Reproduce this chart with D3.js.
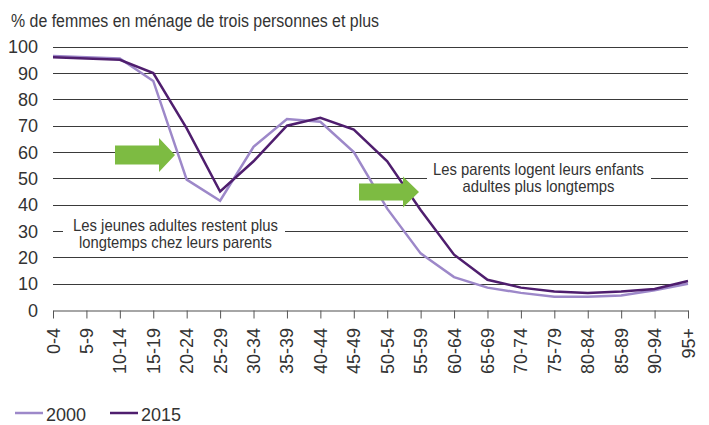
<!DOCTYPE html>
<html>
<head>
<meta charset="utf-8">
<script src="https://cdn.jsdelivr.net/npm/d3@7"></script>
<style>
  body { margin: 0; background: #fff; }
  text { font-family: "Liberation Sans", Arial, sans-serif; fill: #333; }
</style>
</head>
<body>
<div id="chart"></div>
<script>
// age groups
var ages = ["0-4", "5-9", "10-14", "15-19", "20-24", "25-29", "30-34", "35-39", "40-44", "45-49",
	"50-54", "55-59", "60-64", "65-69", "70-74", "75-79", "80-84", "85-89", "90-94", "95+"];

// share of women in households of 3+ persons (%)
var v2000 = [96.5, 96, 95.5, 87, 49.5, 41.5, 62, 72.5, 71.5, 60,
	38.5, 21.5, 12.5, 8.5, 6.5, 5, 5, 5.5, 7.5, 10];
var v2015 = [96, 95.5, 95, 90, 69, 45, 56.5, 70, 73, 68.5,
	56.5, 38, 21, 11.5, 8.5, 7, 6.5, 7, 8, 11];

var yTicks = [0, 10, 20, 30, 40, 50, 60, 70, 80, 90, 100];
var seriesNames = ["2000", "2015"];

var colors = { "2000": "#9d88c9", "2015": "#4f1e6e" };
var green = "#7dbb42";

var svg = d3.select("#chart").append("svg")
	.attr("width", 709)
	.attr("height", 425);

var x = d3.scalePoint()
	.domain(ages)
	.range([53, 688]);

var y = d3.scaleLinear()
	.domain([0, 100])
	.range([310, 46.7]);

// title
svg.append("text")
	.attr("x", 11)
	.attr("y", 26.5)
	.attr("font-size", 18)
	.attr("textLength", 368)
	.attr("lengthAdjust", "spacingAndGlyphs")
	.text("% de femmes en ménage de trois personnes et plus");

// gridlines
svg.selectAll("line.grid")
	.data(yTicks.filter(function(d) { return d > 0; }))
	.enter()
	.append("line")
	.attr("class", "grid")
	.attr("x1", 53)
	.attr("x2", 688)
	.attr("y1", function(d) { return Math.round(y(d)) + 0.5; })
	.attr("y2", function(d) { return Math.round(y(d)) + 0.5; })
	.attr("stroke", "#3a3a3a")
	.attr("stroke-width", 1);

// y labels
svg.selectAll("text.ylab")
	.data(yTicks)
	.enter()
	.append("text")
	.attr("class", "ylab")
	.attr("x", 38)
	.attr("y", function(d) { return y(d) + 6.5; })
	.attr("text-anchor", "end")
	.attr("font-size", 18)
	.text(function(d) { return d; });

// x axis
var xAxis = d3.axisBottom(x).tickSize(8).tickSizeOuter(0).tickFormat("");
var gx = svg.append("g")
	.attr("transform", "translate(0,310.5)")
	.call(xAxis);
gx.select(".domain").attr("stroke", "#888").attr("stroke-width", 1.5);
gx.selectAll(".tick line").attr("stroke", "#555");

svg.selectAll("text.xlab")
	.data(ages)
	.enter()
	.append("text")
	.attr("class", "xlab")
	.attr("transform", function(d) { return "translate(" + (x(d) + 6.5) + ",328) rotate(-90)"; })
	.attr("text-anchor", "end")
	.attr("font-size", 18)
	.text(function(d) { return d; });

// annotation masks (white boxes interrupting the gridlines)
svg.append("rect")
	.attr("x", 63).attr("y", 213).attr("width", 222).attr("height", 38)
	.attr("fill", "#fff");
svg.append("rect")
	.attr("x", 427).attr("y", 158).attr("width", 224).attr("height", 40)
	.attr("fill", "#fff");

// lines
var line = d3.line()
	.x(function(d, i) { return x(ages[i]); })
	.y(function(d) { return y(d); });

svg.append("path")
	.datum(v2000)
	.attr("d", line)
	.attr("fill", "none")
	.attr("stroke", colors["2000"])
	.attr("stroke-width", 2.5);

svg.append("path")
	.datum(v2015)
	.attr("d", line)
	.attr("fill", "none")
	.attr("stroke", colors["2015"])
	.attr("stroke-width", 2.5);

// arrows
function arrow(x0, yc, bodyLen, headLen, bodyH, headH) {
	var pts = [
		[x0, yc - bodyH / 2], [x0 + bodyLen, yc - bodyH / 2], [x0 + bodyLen, yc - headH / 2],
		[x0 + bodyLen + headLen, yc], [x0 + bodyLen, yc + headH / 2], [x0 + bodyLen, yc + bodyH / 2],
		[x0, yc + bodyH / 2]
	];
	svg.append("polygon")
		.attr("points", pts.map(function(p) { return p.join(","); }).join(" "))
		.attr("fill", green);
}
arrow(115, 155, 44, 16, 19, 34);
arrow(359, 192, 44, 16, 17, 31);

// annotation texts
var ann1 = svg.append("text").attr("font-size", 16.5).attr("text-anchor", "middle");
ann1.append("tspan").attr("x", 175.5).attr("y", 231)
	.attr("textLength", 205).attr("lengthAdjust", "spacingAndGlyphs")
	.text("Les jeunes adultes restent plus");
ann1.append("tspan").attr("x", 175.5).attr("y", 248)
	.attr("textLength", 193).attr("lengthAdjust", "spacingAndGlyphs")
	.text("longtemps chez leurs parents");

var ann2 = svg.append("text").attr("font-size", 16.5).attr("text-anchor", "middle");
ann2.append("tspan").attr("x", 538.5).attr("y", 175)
	.attr("textLength", 211).attr("lengthAdjust", "spacingAndGlyphs")
	.text("Les parents logent leurs enfants");
ann2.append("tspan").attr("x", 538.5).attr("y", 192)
	.attr("textLength", 152).attr("lengthAdjust", "spacingAndGlyphs")
	.text("adultes plus longtemps");

// legend
var legend = svg.selectAll("g.legend")
	.data(seriesNames)
	.enter()
	.append("g")
	.attr("class", "legend")
	.attr("transform", function(d, i) { return "translate(" + (15 + i * 95) + ",413)"; });

legend.append("line")
	.attr("x1", 0).attr("x2", 28)
	.attr("y1", 0).attr("y2", 0)
	.attr("stroke", function(d) { return colors[d]; })
	.attr("stroke-width", 2.5);

legend.append("text")
	.attr("x", 31)
	.attr("y", 8)
	.attr("font-size", 18)
	.text(function(d) { return d; });
</script>
</body>
</html>
